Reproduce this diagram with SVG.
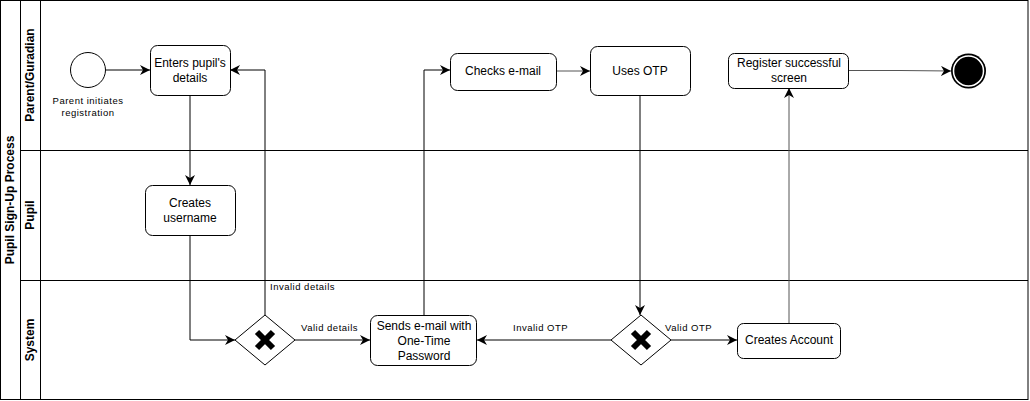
<svg xmlns="http://www.w3.org/2000/svg" width="1030" height="401" viewBox="0 0 1030 401">
<style>
text{font-family:"Liberation Sans",Arial,sans-serif;fill:#000}
.node{fill:#fff;stroke:#000;stroke-width:1}
.lbl{font-size:12px;text-anchor:middle}
.small{font-size:9.5px;letter-spacing:0.5px}
.lane{font-size:12px;font-weight:bold;text-anchor:middle}
.edge{fill:none;stroke:#000;stroke-width:1}
.gray{stroke:#555}
.pool{fill:none;stroke:#000;stroke-width:1}
</style>
<defs>
<marker id="arr" viewBox="0 0 10 10" refX="10" refY="5" markerWidth="10" markerHeight="10" markerUnits="userSpaceOnUse" orient="auto">
<path d="M0,0 L10,5 L0,10 L3,5 Z" fill="#000"/>
</marker>
</defs>
<rect width="1030" height="401" fill="#fff"/>
<g id="pool">
<rect class="pool" x="0.5" y="0.5" width="1027.5" height="399"/>
<line class="pool" x1="20.5" y1="0.5" x2="20.5" y2="399.5"/>
<line class="pool" x1="40.5" y1="0.5" x2="40.5" y2="399.5"/>
<line class="pool" x1="20.5" y1="150.5" x2="1028" y2="150.5"/>
<line class="pool" x1="20.5" y1="280.5" x2="1028" y2="280.5"/>
<text class="lane" transform="translate(14,200) rotate(-90)">Pupil Sign-Up Process</text>
<text class="lane" transform="translate(34,75) rotate(-90)">Parent/Guradian</text>
<text class="lane" transform="translate(34,215) rotate(-90)">Pupil</text>
<text class="lane" transform="translate(34,340) rotate(-90)">System</text>
</g>
<g id="connectors">
<path class="edge" d="M106,70 H150" marker-end="url(#arr)"/>
<path class="edge" d="M190,95 V185" marker-end="url(#arr)"/>
<path class="edge" d="M190,235 V340 H235" marker-end="url(#arr)"/>
<path class="edge" d="M265,315 V70 H230" marker-end="url(#arr)"/>
<path class="edge" d="M295,340 H370" marker-end="url(#arr)"/>
<path class="edge" d="M424,315 V70 H450" marker-end="url(#arr)"/>
<path class="edge gray" d="M557,71 H590" marker-end="url(#arr)"/>
<path class="edge" d="M640,96 V315" marker-end="url(#arr)"/>
<path class="edge" d="M611,340 H477" marker-end="url(#arr)"/>
<path class="edge" d="M671,340 H737" marker-end="url(#arr)"/>
<path class="edge gray" d="M789,323 V88" marker-end="url(#arr)"/>
<path class="edge gray" d="M849,70.5 H900 L951,71" marker-end="url(#arr)"/>
<text class="small" x="270" y="290">Invalid details</text>
<text class="small" x="301" y="331">Valid details</text>
<text class="small" x="513" y="331">Invalid OTP</text>
<text class="small" x="665" y="331">Valid OTP</text>
</g>
<g id="start">
<circle class="node" cx="88" cy="70" r="17.5"/>
<text class="small" x="88" y="104" text-anchor="middle">Parent initiates</text>
<text class="small" x="88" y="116" text-anchor="middle">registration</text>
</g>
<g id="enters">
<rect class="node" x="150.5" y="45.5" width="80" height="50" rx="7"/>
<text class="lbl" x="190" y="67">Enters pupil's</text>
<text class="lbl" x="190" y="82">details</text>
</g>
<g id="creates-username">
<rect class="node" x="145.5" y="185.5" width="90" height="50" rx="7"/>
<text class="lbl" x="190" y="207">Creates</text>
<text class="lbl" x="190" y="222">username</text>
</g>
<g id="gateway1">
<polygon class="node" points="265,315 295,340 265,365 235,340"/>
<path d="M257,332 L273,348 M273,332 L257,348" stroke="#000" stroke-width="6"/>
</g>
<g id="sends-email">
<rect class="node" x="370.5" y="315.5" width="106" height="50" rx="7"/>
<text class="lbl" x="424" y="330">Sends e-mail with</text>
<text class="lbl" x="424" y="345">One-Time</text>
<text class="lbl" x="424" y="360">Password</text>
</g>
<g id="checks-email">
<rect class="node" x="450.5" y="53.5" width="106" height="37" rx="7"/>
<text class="lbl" x="503" y="75">Checks e-mail</text>
</g>
<g id="uses-otp">
<rect class="node" x="590.5" y="46.5" width="100" height="49" rx="7"/>
<text class="lbl" x="640" y="75">Uses OTP</text>
</g>
<g id="gateway2">
<polygon class="node" points="641,315 671,340 641,365 611,340"/>
<path d="M633,332 L649,348 M649,332 L633,348" stroke="#000" stroke-width="6"/>
</g>
<g id="creates-account">
<rect class="node" x="737.5" y="323.5" width="103" height="35" rx="6"/>
<text class="lbl" x="789" y="344">Creates Account</text>
</g>
<g id="register">
<rect class="node" x="728.5" y="53.5" width="120" height="35" rx="6"/>
<text class="lbl" x="789" y="67">Register successful</text>
<text class="lbl" x="789" y="82">screen</text>
</g>
<g id="end">
<circle cx="968.5" cy="71" r="17.5" fill="#000"/>
<circle cx="968.5" cy="71" r="15" fill="none" stroke="#fff" stroke-width="1.5"/>
</g>
</svg>
